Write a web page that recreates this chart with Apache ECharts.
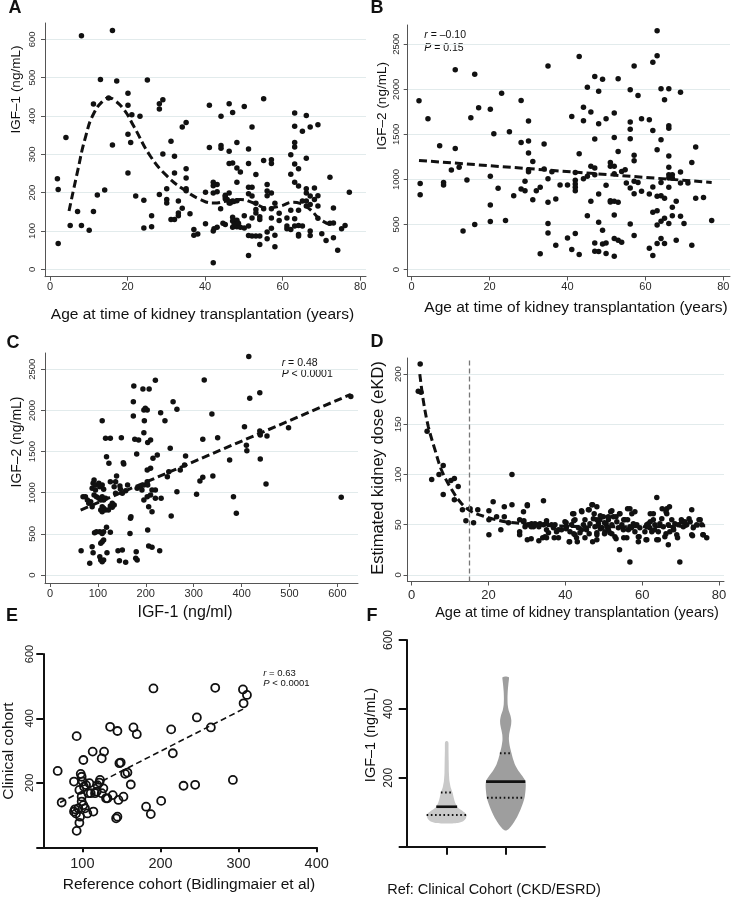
<!DOCTYPE html>
<html><head><meta charset="utf-8">
<script src="https://cdn.jsdelivr.net/npm/echarts@6/dist/echarts.min.js"></script>
<style>html,body{margin:0;padding:0;background:#fff}#c{width:735px;height:900px}</style>
</head><body><div id="c"></div>
<script>
// ---------------- DATA ----------------
// Panel A: age at transplantation (years) vs IGF-1 (ng/mL)
const panelA_points = [[1.9,236],[2.1,208],[2.1,67],[4.1,344],[5.2,114],[7.1,151],[8.1,609],[8.1,114],[10.1,102],[11.2,431],[11.2,151],[12.2,194],[13,495],[14.1,207],[15.1,447],[16.1,623],[16.1,324],[17.2,491],[20.1,459],[20.1,428],[20.1,352],[20.1,251],[21.1,403],[20.8,331],[22.1,191],[23.2,399],[24.2,180],[24.2,108],[25.1,494],[26.2,140],[26.2,111],[28.2,432],[28.2,418],[28.2,195],[29.1,442],[29.1,301],[30.1,210],[30.1,182],[30.1,173],[31.2,334],[31.2,130],[32.1,295],[32.1,251],[32.1,130],[33.1,178],[33.1,147],[33.1,140],[34.1,371],[34.1,159],[35.1,383],[35.1,262],[35.1,238],[35.1,210],[35.1,205],[36.1,145],[37.1,104],[37.1,89],[38.1,92],[40.1,119],[40.1,201],[41.1,428],[41.1,318],[42.1,227],[42.1,218],[42.1,199],[42.1,100],[42.1,17],[42.3,106],[43.1,221],[43.1,202],[43.1,110],[44,158],[44.1,399],[44.1,323],[44.1,316],[45.2,193],[45.2,184],[45.2,117],[46.2,432],[46.2,308],[46.2,276],[46.2,199],[46.2,173],[47.1,409],[47.1,277],[47.1,178],[47.1,136],[47.1,126],[47.1,110],[48.2,331],[48.2,264],[48.2,227],[48.2,179],[48.2,128],[48.2,111],[49.1,254],[49.1,110],[50.1,425],[50.1,140],[50.1,108],[51.2,314],[51.2,276],[51.2,214],[51.2,197],[51.2,113],[51.2,88],[51.2,36],[52.1,371],[52.1,214],[52.1,191],[52.1,134],[52.1,87],[53.1,247],[53.1,172],[53.1,156],[53.1,147],[53.1,87],[54.1,137],[54.1,130],[54.1,87],[54.1,65],[55.1,445],[55.1,284],[55.1,158],[56,221],[56,204],[56,192],[56,97],[56,80],[57.1,286],[57.1,276],[57.1,199],[57.1,158],[57.1,134],[57.1,107],[58,172],[58,89],[58,59],[59.1,146],[59.1,127],[61.1,134],[61.1,113],[61.1,106],[62.1,299],[62.1,248],[62.1,154],[62.1,104],[63.1,408],[63.1,373],[63.1,331],[63.1,319],[63.1,275],[63.1,227],[63.1,132],[63.1,113],[64.1,262],[64.1,217],[64.1,154],[64.1,114],[64.1,91],[64.1,87],[65.1,360],[65.1,178],[65.1,113],[66.1,401],[66.1,290],[66.1,210],[66.1,199],[66.1,178],[66.1,165],[67.1,371],[67.1,191],[67.1,169],[67.1,100],[67.1,88],[68.2,212],[68.2,182],[69.1,377],[69.1,192],[69.1,165],[69.1,133],[70.1,93],[71.2,75],[72.2,240],[72.2,120],[73.1,160],[73.1,121],[73.1,82],[74.2,50],[75.2,106],[76.1,114],[77.2,201],[45.2,190],[45.7,182],[46.5,173],[47.4,177],[44.6,120],[47.5,118],[48.6,120]];
const panelA_curve = [[4.9,152],[7,251],[9.2,347],[11.3,407],[13.9,442],[15.2,447],[16.5,442],[19.1,416],[21.6,373],[25.9,295],[30.2,243],[34.5,208],[38.8,182],[42.2,173],[45.7,178],[49.1,182],[52.5,173],[56,160],[59.4,165],[62.8,175],[64.5,172],[67.1,156],[69.7,130],[73.1,113]];
const panelA_xTicks = [0,20,40,60,80];
const panelA_yTicks = [0,100,200,300,400,500,600];

// Panel B: age vs IGF-2 (ng/mL)
const panelB_points = [[1.9,1872],[2.2,956],[2.2,831],[4.2,1673],[7.2,1374],[8.2,967],[8.2,938],[10.2,1104],[11.2,2216],[11.2,1344],[12.2,1134],[13.2,428],[14.2,993],[15.2,1684],[16.2,2168],[16.2,499],[17.2,1795],[20.2,1780],[20.2,1034],[20.2,716],[20.2,532],[21.1,1507],[22.2,901],[23.1,1957],[24.1,543],[25.1,1529],[26.2,820],[28.1,1876],[28.1,1411],[28.1,894],[29.1,979],[29.1,875],[30,1647],[30,1425],[30,1292],[30,1108],[30,1086],[31.1,1200],[31.1,775],[32,875],[33,912],[33,174],[34,1392],[34,1115],[35,2260],[35,1008],[35,746],[35,510],[35,406],[36,1086],[37,270],[38.1,938],[37,783],[40,938],[40,351],[41.1,1699],[41.1,222],[42,1078],[42,990],[42,949],[42,912],[42,875],[42,399],[43,2363],[43,1285],[43,166],[44.1,1802],[44.1,1651],[44.1,1008],[45.1,2024],[45.1,598],[45.1,1034],[46,1747],[46,1145],[46,757],[47,2142],[47,1448],[47,1126],[47,1052],[47,295],[47,203],[48,1979],[48,1617],[48,838],[48,524],[48,199],[49,2112],[49,436],[49,284],[49.9,1673],[49.9,934],[49.9,295],[49.9,177],[51,1189],[51,1145],[51,764],[51,750],[52,1736],[52,1466],[52,1145],[52,1064],[52,757],[52,606],[52,343],[52,148],[53,2116],[53,1311],[53,746],[53,325],[53.9,1089],[53.9,303],[54.8,1108],[55.1,960],[56.1,1994],[56.1,1636],[56.1,1558],[56.1,1451],[56.1,905],[56.1,506],[57.1,2260],[57.1,1267],[57.1,1208],[57.1,979],[57.1,842],[57.1,377],[58.1,1931],[58.1,967],[59,1673],[59,868],[61,1662],[61,838],[61,236],[61.9,2300],[61.9,1544],[61.9,916],[61.9,635],[61.9,155],[63,2651],[63,2374],[63,1329],[63,812],[63,653],[63,495],[63,288],[64,2005],[64,1440],[64,967],[64,820],[64,535],[64,343],[64.9,1883],[64.9,790],[64.9,569],[64.9,288],[66,2005],[66,1595],[66,1569],[66,1259],[66,1134],[66,1052],[66,1015],[66,912],[66,510],[66.9,1052],[66.9,1015],[66.9,690],[66.9,598],[67.9,757],[67.9,325],[69,1968],[69,1082],[69,960],[69,591],[69.9,510],[70.9,960],[71.9,1189],[71.9,270],[72.9,1359],[72.9,790],[74.9,798],[77,543]];
const panelB_line = [[1.9,1211],[77,967]];
const panelB_stats = ['–0.10', '= 0.15'];
const panelB_xTicks = [0,20,40,60,80];
const panelB_yTicks = [0,500,1000,1500,2000,2500];

// Panel C: IGF-1 (ng/ml) vs IGF-2 (ng/mL)
const panelC_points = [[65,296],[83,142],[88,344],[90,271],[104,223],[106,182],[109,162],[112,182],[119,271],[109,405],[106,385],[112,425],[93,515],[97,527],[104,527],[109,506],[112,527],[118,579],[126,519],[142,296],[151,304],[145,174],[158,154],[167,506],[168,689],[180,284],[182,182],[179,203],[204,547],[206,353],[213,336],[229,296],[253,717],[69,952],[74,952],[78,912],[81,871],[85,891],[88,831],[92,1155],[90,1114],[95,1094],[88,1053],[95,1033],[102,1114],[104,1074],[109,1094],[112,1041],[92,972],[97,952],[102,932],[109,952],[106,912],[112,912],[116,932],[109,831],[112,810],[116,790],[109,770],[106,790],[126,839],[130,823],[134,851],[122,790],[130,871],[137,1134],[139,1203],[126,1134],[134,1074],[137,993],[146,1082],[147,1041],[158,1025],[151,993],[162,1094],[169,709],[153,1365],[154,1349],[116,1661],[126,1661],[149,1669],[109,1876],[118,1438],[123,1357],[174,1933],[196,2006],[203,2006],[199,2026],[231,1973],[240,1876],[265,2014],[257,2107],[174,2107],[197,1876],[196,1730],[185,1641],[181,1471],[177,1649],[204,1609],[210,1641],[215,1418],[224,1459],[251,1540],[203,1276],[210,1297],[182,1053],[189,1074],[192,1033],[196,1094],[203,1134],[204,1094],[213,1033],[220,1033],[196,912],[203,952],[210,973],[220,932],[206,831],[213,770],[232,932],[245,1195],[248,1256],[265,1013],[283,1446],[281,1337],[272,1276],[175,2297],[194,2262],[207,2262],[220,2366],[306,981],[313,1143],[319,1649],[319,1187],[322,2370],[338,1957],[340,1203],[350,1669],[375,1398],[383,952],[389,750],[406,1803],[410,1576],[411,1511],[415,2654],[417,2147],[438,2216],[438,1750],[439,1702],[439,1410],[451,1106],[453,1690],[498,1791],[608,944],[628,2170]];
const panelC_line = [[64,790],[628,2195]];
const panelC_stats = ['= 0.48', '< 0.0001'];
const panelC_xTicks = [0,100,200,300,400,500,600];
const panelC_yTicks = [0,500,1000,1500,2000,2500];

// Panel D: age vs estimated kidney dose (eKD)
const panelD_points = [[2.2,210],[1.7,183],[2.4,182],[4,143],[5.2,95],[7.1,100],[8.2,109],[8.2,80],[10.2,94],[11.1,96],[11.1,75],[12.1,88],[13.2,65],[14.1,54],[15.2,66],[16.1,52],[17.2,65],[20.1,64],[20.1,40],[20.1,55],[21.2,73],[22.1,58],[23.2,45],[24.1,68],[24.1,58],[25.2,52],[26.1,100],[26.1,70],[28.1,55],[28.1,43],[28.1,40],
[29.1,53],[30.1,70],[29.1,63],[29.5,48],[30.4,50],[31.2,51],[31.7,48],[32.1,51],[33,50],[33.4,51],[34.3,74],[34.3,50],[34.7,38],[35.1,51],[35.6,42],[36.4,50],[36.9,47],[37.3,50],[37.7,43],[38.2,37],[39,45],[39.9,53],[40.3,48],[41,33],[41.2,43],[41.6,50],[41.9,61],[42.5,40],[42.5,55],[42.9,37],[43.4,47],[43.8,42],[44.3,63],[44.7,50],[45.1,55],[45.5,45],[46,65],[46.4,51],[46.9,70],[47.3,56],[47.5,61],[47.7,48],[48.2,35],[48.2,42],[48.6,51],[49,55],[49.5,47],[49.9,58],[50.3,43],[50.6,51],[50.8,48],[51.2,55],[51.6,42],[51.8,63],[52.1,50],[52.5,58],[52.9,38],[53.4,53],[53.8,47],[54.2,61],[54.1,25],[54.7,50],[55.1,45],[55.5,55],[56,37],[56.4,45],[56.8,66],[56.8,48],[57.3,61],[57.7,51],[58.1,43],[58.6,50],[59,38],[59,33],[59.4,47],[56.8,13],[60.7,43],[61,35],[61.2,50],[61.6,51],[62,47],[62.5,43],[62.9,55],[62.9,61],[63.3,50],[63.8,77],[63.8,35],[64.2,43],[64.6,51],[65.1,56],[65.5,48],[65.9,38],[66.4,66],[66.4,61],[66.8,30],[66.8,50],[67.2,43],[67.7,55],[68.1,47],[68.5,51],[69,40],[69.4,50],[69.8,13],[70.3,53],[70.7,48],[71.6,50],[72.5,53],[72.9,65],[72.9,40],[73.3,47],[74.2,50],[75.1,55],[75.5,50],[75.9,40],[76.8,37],
[29.2,54],[30.1,69],[30.1,35],[31.1,48],[31.1,36],[32.1,50],[33.1,34],[33.1,48],[34.1,37],[35.1,54],[35.1,45],[35.1,37],[37.1,37],[38.2,45],[40.2,52],[40.2,46],[41.1,33],[42.2,61],[42.2,54],[42.2,41],[43.1,33],[44.2,64],[44.2,45],[45.1,37],[46.2,65],[46.2,41],[47.1,70],[47.1,33],[48.2,68],[48.2,55],[48.2,40],[49.1,59],[49.1,46],[50.2,52],[50.2,41],[51.2,58],[51.2,45],[52.1,64],[52.1,41],[53.2,58],[53.2,36],[54.1,61],[55.2,55],[55.2,37],[56.2,66],[56.2,55],[57.2,47],[58.1,63],[59.2,38],[61.2,35],[61.2,48],[62.1,61],[62.1,53],[63.2,45],[64.2,35],[65.2,66],[66.2,63],[66.2,41],[67.1,68],[68.2,45],[69.2,37],[70.2,55],[71.1,53],[72.2,56],[73.1,39],[74.8,55],[75.8,40]];
const panelD_curve = [[2.1,200],[3,174],[4.3,148],[6.1,124],[7.8,104],[10.4,85],[13,71],[15.6,63],[19.1,58],[24.3,53],[29.5,51],[36.4,49],[48.6,48],[60,48],[76.4,49]];
const panelD_refAge = 15;
const panelD_xTicks = [0,20,40,60,80];
const panelD_yTicks = [0,50,100,150,200];

// Panel E: reference cohort vs clinical cohort IGF-1
const panelE_points = [[68.4,237],[73.5,139],[89.3,204],[92.7,345],[90.6,118],[89.3,111],[91.9,105],[92.7,51],[96.2,76],[97,95],[94.9,121],[97.9,228],[99.1,219],[100.4,204],[101.3,271],[96.2,178],[99.1,157],[99.1,142],[101.3,131],[103.4,121],[102.1,188],[104.7,193],[106.4,105],[107.7,168],[110.7,168],[109,199],[113.2,297],[114.1,111],[116.2,168],[118.4,173],[119.2,193],[121.8,201],[122.6,209],[124.8,276],[126.9,183],[127.8,297],[124.8,168],[130.3,152],[132.1,152],[135.5,374],[138.9,162],[144.9,361],[144.9,95],[143.2,90],[147.4,261],[149.1,263],[146.2,147],[152.6,157],[154.7,228],[157.7,232],[162,195],[165.4,372],[169.7,351],[181.6,126],[187.6,103],[191,493],[200.9,144],[213.7,366],[215.8,292],[229.5,191],[244.4,194],[246.6,403],[264.5,372],[270.1,495],[292.7,209],[305.6,490],[306.4,447],[310.7,473]];
const panelE_line = [[71.4,139],[309.8,434]];
const panelE_stats = ['= 0.63', '< 0.0001'];
const panelE_xTicks = [100,200,300,400];
const panelE_yTicks = [0,200,400,600];
const panelE_yLabels = [200,400,600];

// Panel F: violin plots of IGF-1 (ng/mL), [value, relative density]
const violinCategories = ['Ref', 'Clinical Cohort (CKD/ESRD)'];
const violinRef = [[67,0],[69,0.55],[74,0.82],[82,0.95],[92,1.0],[100,0.88],[108,0.68],[116,0.52],[128,0.42],[142,0.35],[157,0.29],[172,0.2],[190,0.14],[215,0.11],[250,0.1],[280,0.09],[300,0.09],[305,0.07],[307,0]];
const violinClinical = [[47,0],[50,0.12],[58,0.25],[72,0.42],[88,0.58],[108,0.74],[128,0.87],[145,0.95],[165,0.99],[180,1.0],[192,0.97],[205,0.83],[220,0.64],[237,0.47],[255,0.36],[271,0.29],[290,0.21],[310,0.16],[325,0.17],[340,0.22],[355,0.27],[367,0.28],[380,0.24],[395,0.15],[412,0.1],[430,0.09],[450,0.1],[470,0.13],[485,0.16],[492,0.16],[494,0]];
const violinMedians = [116, 189];
const violinQ1 = [92, 142];
const violinQ3 = [157, 271];
const panelF_yTicks = [0,200,400,600];
const panelF_yLabels = [200,400,600];

// ---------------- CHART ----------------
const FONT = '"Liberation Sans", Arial, Helvetica, sans-serif';
const INK = '#111';
const VIOLIN_HALF = 0.34;
const violinProfiles = [violinRef, violinClinical];
const violinColors = ['#c9c9c9', '#9e9e9e'];
const plain = v => String(v);

function stataX(gi, min, max, ticks, fs, margin) {
  return {type:'value', gridIndex:gi, min:min, max:max,
    axisLine:{show:true, onZero:false, lineStyle:{color:'#555', width:1}},
    axisTick:{show:true, length:4, customValues:ticks, lineStyle:{color:'#555', width:1}},
    axisLabel:{show:true, customValues:ticks, formatter:plain, fontSize:fs, fontFamily:FONT, color:'#2b2b2b', margin:margin},
    splitLine:{show:false}};
}
function stataY(gi, min, max, ticks, fs, margin) {
  return {type:'value', gridIndex:gi, min:min, max:max,
    axisLine:{show:true, onZero:false, lineStyle:{color:'#555', width:1}},
    axisTick:{show:true, length:4, customValues:ticks, lineStyle:{color:'#555', width:1}},
    axisLabel:{show:true, customValues:ticks, formatter:plain, rotate:90, fontSize:fs, fontFamily:FONT, color:'#2b2b2b', margin:margin},
    splitLine:{show:true, lineStyle:{color:'#e2ebec', width:1}}};
}
function prismAxis(gi, min, max, ticks, labels, fs, margin, tickLen, rotate) {
  return {type:'value', gridIndex:gi, min:min, max:max,
    axisLine:{show:true, onZero:false, lineStyle:{color:INK, width:2}},
    axisTick:{show:true, length:tickLen, customValues:ticks, lineStyle:{color:INK, width:2}},
    axisLabel:{show: labels.length > 0, customValues:labels, formatter:plain, rotate:rotate, fontSize:fs, fontFamily:FONT, color:'#222', margin:margin},
    splitLine:{show:false}};
}

function scatter(i, data) {
  return {type:'scatter', xAxisIndex:i, yAxisIndex:i, data:data, symbolSize:5.5,
    itemStyle:{color:INK, opacity:1}, silent:true, z:3};
}
function dashLine(i, data, smooth, width, dash) {
  return {type:'line', xAxisIndex:i, yAxisIndex:i, data:data, smooth:smooth, showSymbol:false,
    symbol:'none', lineStyle:{color:INK, width:width, type:dash, opacity:1}, silent:true, z:4};
}

function densityAt(prof, v) {
  for (let k = 0; k < prof.length - 1; k++) {
    const a = prof[k], b = prof[k+1];
    if (v >= a[0] && v <= b[0]) return a[1] + (b[1]-a[1]) * (v - a[0]) / (b[0]-a[0]);
  }
  return 0;
}

function renderViolin(params, api) {
  const i = params.dataIndex;
  const prof = violinProfiles[i];
  const cx = api.value(0);
  const left = prof.map(p => api.coord([cx - p[1]*VIOLIN_HALF, p[0]]));
  const rightSrc = prof.slice(1, prof.length - 1).reverse();
  const right = rightSrc.map(p => api.coord([cx + p[1]*VIOLIN_HALF, p[0]]));
  const children = [{type:'polygon', shape:{points:left.concat(right), smooth:0.2},
    style:{fill:violinColors[i], stroke:null}}];
  function statLine(v, dashed) {
    const d = densityAt(prof, v) * VIOLIN_HALF;
    const p1 = api.coord([cx - d, v]), p2 = api.coord([cx + d, v]);
    children.push({type:'line', shape:{x1:p1[0], y1:p1[1], x2:p2[0], y2:p2[1]},
      style:{stroke:INK, lineWidth: dashed ? 2 : 2.6, lineDash: dashed ? [1.6,2.6] : null}});
  }
  statLine(violinQ1[i], true);
  statLine(violinQ3[i], true);
  statLine(violinMedians[i], false);
  return {type:'group', children:children};
}

function txt(x, y, text, size, opts) {
  opts = opts || {};
  return {type:'text', x:x, y:y, rotation: opts.rot ? Math.PI/2 : 0, silent:true,
    style:{text:text, fill: opts.color || INK, font: (opts.weight || 'normal') + ' ' + size + 'px ' + FONT,
      textAlign: opts.align || 'center', align: opts.align || 'center',
      textVerticalAlign:'middle', verticalAlign:'middle'}};
}
function statText(x, y, letter, rest, size) {
  return {type:'text', x:x, y:y, silent:true,
    style:{text:'{i|' + letter + '} ' + rest, fill:INK, font:'normal ' + size + 'px ' + FONT,
      textAlign:'left', align:'left', textVerticalAlign:'middle', verticalAlign:'middle',
      rich:{i:{fontStyle:'italic', fontSize:size, fontFamily:FONT, fill:INK, color:INK}}}};
}

const option = {
  animation:false,
  backgroundColor:'#fff',
  grid:[
    {left:45, top:23, width:321, height:253.7},
    {left:407.7, top:25, width:322.3, height:251.5},
    {left:45, top:353, width:313, height:230},
    {left:407.5, top:358, width:316.5, height:223.5},
    {left:43.3, top:654, width:273.4, height:193.3},
    {left:406.7, top:640, width:138.3, height:206.7}
  ],
  xAxis:[
    stataX(0, -1.3, 81.5, panelA_xTicks, 11, 5),
    stataX(1, -1.0, 81.7, panelB_xTicks, 11, 5),
    stataX(2, -10.4, 643, panelC_xTicks, 11, 5),
    stataX(3, -1.1, 81.3, panelD_xTicks, 13, 7),
    prismAxis(4, 50, 400, panelE_xTicks, panelE_xTicks, 14.5, 9, 5, 0),
    prismAxis(5, 0.322, 2.666, [1,2], [], 12, 8, 8, 0)
  ],
  yAxis:[
    stataY(0, -19.3, 642.5, panelA_yTicks, 9.5, 8),
    stataY(1, -77.7, 2714, panelB_yTicks, 9.5, 6),
    stataY(2, -97, 2698, panelC_yTicks, 9.5, 8),
    stataY(3, -6.5, 216, panelD_yTicks, 9.5, 4),
    prismAxis(4, 0, 600, panelE_yTicks, panelE_yLabels, 11, 8, 7, 90),
    prismAxis(5, 0, 600, panelF_yTicks, panelF_yLabels, 12, 12, 8, 90)
  ],
  series:[
    scatter(0, panelA_points),
    dashLine(0, panelA_curve, 0.5, 3, [8,4]),
    scatter(1, panelB_points),
    dashLine(1, panelB_line, false, 3, [8,4]),
    scatter(2, panelC_points),
    dashLine(2, panelC_line, false, 3, [8,4]),
    Object.assign(scatter(3, panelD_points), {
      markLine:{silent:true, symbol:['none','none'], label:{show:false},
        lineStyle:{color:'#777', width:1.3, type:[5,3]}, data:[{xAxis:panelD_refAge}]}
    }),
    dashLine(3, panelD_curve, 0.35, 3, [8,4]),
    {type:'scatter', xAxisIndex:4, yAxisIndex:4, data:panelE_points, symbolSize:8, silent:true,
      itemStyle:{color:'rgba(255,255,255,0)', borderColor:INK, borderWidth:1.8, opacity:1}, z:3},
    dashLine(4, panelE_line, false, 1.6, [6,3.5]),
    {type:'custom', xAxisIndex:5, yAxisIndex:5, silent:true,
      data: violinCategories.map((c, k) => [k + 1]), renderItem: renderViolin, z:3}
  ],
  graphic:{elements:[
    txt(15, 8, 'A', 18, {weight:'bold'}),
    txt(377, 8, 'B', 18, {weight:'bold'}),
    txt(13, 343, 'C', 18, {weight:'bold'}),
    txt(377, 342, 'D', 18, {weight:'bold'}),
    txt(12, 616, 'E', 18, {weight:'bold'}),
    txt(372, 616, 'F', 18, {weight:'bold'}),
    txt(16.7, 89.5, 'IGF–1 (ng/mL)', 13.5, {rot:true}),
    txt(382, 106, 'IGF–2 (ng/mL)', 13.5, {rot:true}),
    txt(16.7, 442, 'IGF–2 (ng/mL)', 14, {rot:true}),
    txt(378.3, 468, 'Estimated kidney dose (eKD)', 16.5, {rot:true}),
    txt(9, 751, 'Clinical cohort', 15.5, {rot:true}),
    txt(371, 735, 'IGF–1 (ng/mL)', 14.5, {rot:true}),
    txt(202.5, 315, 'Age at time of kidney transplantation (years)', 15.5),
    txt(576, 308, 'Age at time of kidney transplantation (years)', 15.5),
    txt(185, 613, 'IGF-1 (ng/ml)', 16),
    txt(577, 613, 'Age at time of kidney transplantation (years)', 14.5),
    txt(189, 885, 'Reference cohort (Bidlingmaier et al)', 15.5),
    txt(494, 890, 'Ref: Clinical Cohort (CKD/ESRD)', 14.5),
    statText(424.3, 35, 'r', '= ' + panelB_stats[0], 10.5),
    statText(424.3, 48.3, 'P', panelB_stats[1], 10.5),
    statText(281.7, 363, 'r', panelC_stats[0], 10.5),
    statText(281.7, 374, 'P', panelC_stats[1], 10.5),
    statText(263.3, 673, 'r', panelE_stats[0], 9.5),
    statText(263.3, 683, 'P', panelE_stats[1], 9.5)
  ]}
};

const chart = echarts.init(document.getElementById('c'), null, {renderer:'canvas', width:735, height:900});
chart.setOption(option);
</script>
</body></html>
